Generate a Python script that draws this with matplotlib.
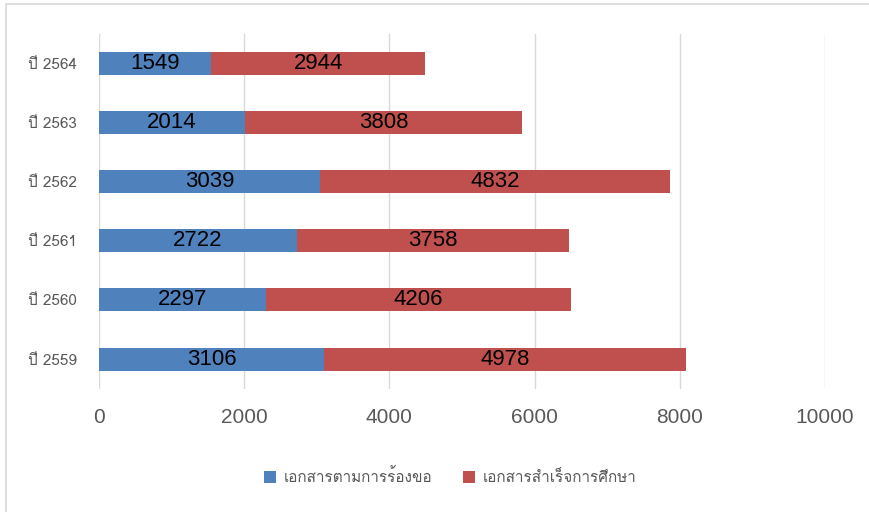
import matplotlib
matplotlib.use("Agg")
import matplotlib.pyplot as plt
from matplotlib import font_manager
from matplotlib.ft2font import FT2Font
from matplotlib.patches import Rectangle

# ข้อมูล
years = ["ปี 2559", "ปี 2560", "ปี 2561", "ปี 2562", "ปี 2563", "ปี 2564"]
request_docs = [3106, 2297, 2722, 3039, 2014, 1549]
grad_docs = [4978, 4206, 3758, 4832, 3808, 2944]
series_names = ["เอกสารตามการร้องขอ", "เอกสารสำเร็จการศึกษา"]
x_ticks = [0, 2000, 4000, 6000, 8000, 10000]

# หา font ที่มีอักษรไทย (ไม่เอาแบบ mono)
thai_fonts = []
for f in sorted(font_manager.findSystemFonts()):
    try:
        if 0x0E01 in FT2Font(f).get_charmap():
            thai_fonts.append(font_manager.FontProperties(fname=f).get_name())
    except Exception:
        pass
good = [n for n in thai_fonts if 'mono' not in n.lower()]
thai = (good or thai_fonts or ['DejaVu Sans'])[0]
plt.rcParams['font.family'] = ['DejaVu Sans']
num_family = ['Liberation Sans Narrow', 'Liberation Sans', 'DejaVu Sans']

fig = plt.figure(figsize=(8.7, 5.12), dpi=100)
fig.patches.append(Rectangle((6 / 870, -0.01), 1.0, 1 - 4 / 512 + 0.01,
                             transform=fig.transFigure, fill=False,
                             edgecolor='#d9d9d9', linewidth=1.2))

ax = fig.add_axes([99 / 870, 1 - 388.7 / 512, (825 - 99) / 870, 355.2 / 512])
pos = range(len(years))
b1 = ax.barh(pos, request_docs, height=0.39, color='#4f81bd', label=series_names[0], zorder=3)
b2 = ax.barh(pos, grad_docs, left=request_docs, height=0.39, color='#c0504d',
             label=series_names[1], zorder=3)
for bars in (b1, b2):
    ax.bar_label(bars, label_type='center', fontsize=16, color='black',
                 family=['Liberation Sans', 'DejaVu Sans'])

ax.set_xlim(0, 10000)
ax.set_ylim(-0.5, 5.5)
ax.set_xticks(x_ticks)
ax.set_xticklabels([str(t) for t in x_ticks], fontsize=15, color='#595959', family=num_family)
ax.set_yticks(list(pos))
ax.set_yticklabels(years, fontsize=11, color='#595959', family=[thai, 'DejaVu Sans'])
ax.tick_params(axis='x', length=0, pad=14)
ax.tick_params(axis='y', length=0, pad=16)
ax.grid(axis='x', color='#d9d9d9', linewidth=1, zorder=0)
for s in ax.spines.values():
    s.set_visible(False)

fig.legend(loc='center', bbox_to_anchor=(450 / 870, 1 - 477 / 512), ncol=2,
           frameon=False, labelcolor='#595959', handlelength=0.8,
           handleheight=0.8, columnspacing=2.0, handletextpad=0.5,
           prop={'family': [thai, 'DejaVu Sans'], 'size': 11})

fig.savefig('out.png', dpi=100)
